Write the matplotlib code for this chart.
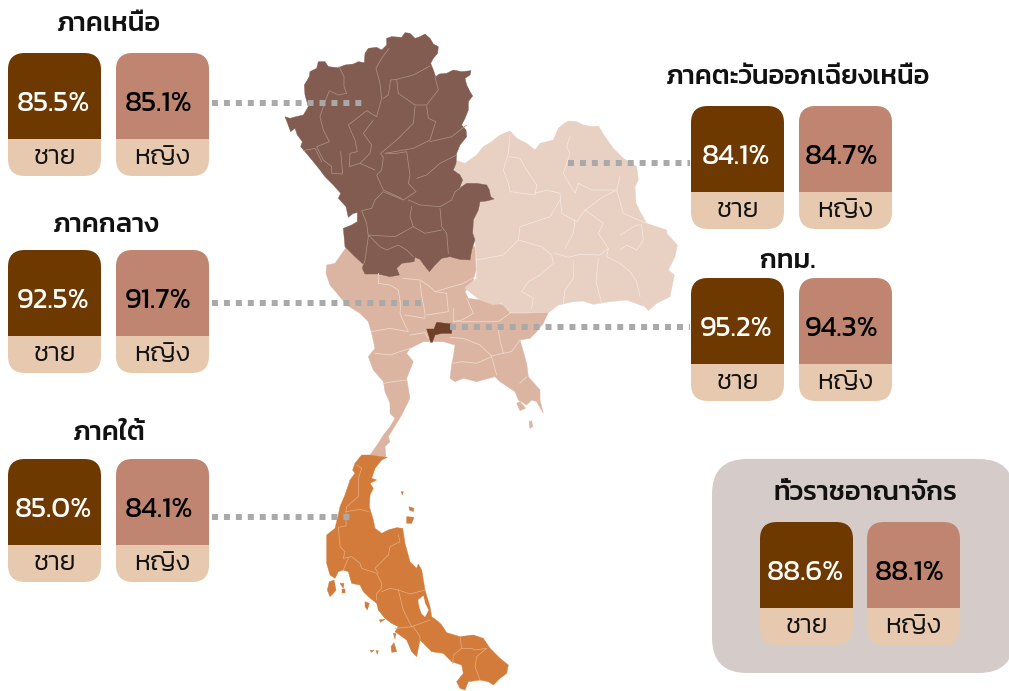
import matplotlib
matplotlib.use('Agg')
import matplotlib.pyplot as plt
from matplotlib.patches import FancyBboxPatch, Polygon, Rectangle

FONT = ['Kanit', 'Prompt', 'Noto Sans Thai', 'DejaVu Sans']
plt.rcParams['font.family'] = FONT

# ---------- data ----------
regions = ['ภาคเหนือ', 'ภาคกลาง', 'ภาคใต้', 'ภาคตะวันออกเฉียงเหนือ', 'กทม.', 'ทั่วราชอาณาจักร']
male = [85.5, 92.5, 85.0, 84.1, 95.2, 88.6]
female = [85.1, 91.7, 84.1, 84.7, 94.3, 88.1]
male_label = 'ชาย'
female_label = 'หญิง'
card_x = [8, 8, 8, 691, 691, 760]
card_x2 = [116, 116, 116, 799, 799, 867]
card_y = [53, 250, 459, 106, 278, 522]
title_xy = [(109, 25), (106, 226), (109, 434), (798, 78), (788, 262), (865, 494)]
leaders = [(212, 362, 103), (212, 425, 303), (212, 350, 517), (568, 690, 163), (450, 690, 327)]

# map outlines (crop coordinates)
Z1 = (270, 20)
Z2 = (310, 250)
Z3 = (310, 440)
north = [(350,55),(365,50),(395,52),(405,38),(420,40),(435,55),(450,50),(465,42),(480,55),(490,72),(505,80),(503,100),(490,115),(482,130),(490,150),(497,170),(508,162),(530,160),(550,150),(575,155),(603,152),(600,165),(585,175),(590,195),(600,215),(608,228),(595,245),(595,270),(585,295),(575,315),(588,330),(590,350),(570,375),(560,400),(558,430),(550,450),(570,465),(578,480),(568,505),(590,490),(620,490),(650,495),(658,510),(662,530),(672,537),(650,543),(630,545),(625,570),(610,600),(608,640),(615,660),(605,690),(600,720),(570,718),(540,710),(515,715),(495,735),(478,755),(462,735),(450,718),(435,712),(432,725),(395,730),(380,745),(388,765),(360,770),(325,762),(285,762),(277,745),(280,733),(255,710),(225,680),(220,625),(245,615),(262,605),(262,578),(250,580),(235,592),(228,560),(205,535),(212,520),(190,495),(165,470),(150,450),(130,425),(105,395),(92,380),(97,365),(82,345),(75,325),(62,335),(45,290),(60,295),(78,290),(100,285),(115,260),(105,225),(103,195),(118,170),(120,155),(140,145),(145,125),(165,125),(175,140),(205,143),(225,135),(250,132),(265,125),(283,128),(285,100),(295,85),(320,82),(335,90),(350,75)]
northeast = [(880,312),(895,303),(920,305),(940,315),(965,320),(985,318),(1005,350),(1030,385),(1060,415),(1100,440),(1105,480),(1095,500),(1098,550),(1110,575),(1130,610),(1190,630),(1190,640),(1222,675),(1215,710),(1195,750),(1213,765),(1200,830),(1160,850),(1135,872),(1125,860),(1070,840),(1020,845),(970,853),(940,843),(910,845),(865,855),(835,878),(720,878),(695,850),(670,855),(630,840),(585,805),(588,800),(620,775),(620,720),(615,660),(608,640),(610,600),(625,570),(630,545),(650,543),(672,537),(662,530),(658,510),(650,495),(620,490),(590,490),(568,505),(578,480),(570,465),(545,440),(540,425),(560,422),(585,430),(620,405),(640,380),(665,365),(690,345),(720,333),(740,355),(770,370),(795,390),(810,370),(850,360),(865,325)]
central = [(110,-10),(75,40),(50,45),(48,70),(60,105),(85,135),(110,165),(150,190),(175,215),(185,250),(195,295),(175,320),(190,360),(220,395),(225,425),(240,460),(240,490),(255,505),(240,530),(220,555),(205,580),(180,615),(228,620),(225,590),(240,575),(235,560),(260,520),(275,495),(300,445),(290,385),(310,335),(290,310),(300,295),(340,275),(400,275),(435,285),(430,320),(425,345),(420,385),(435,395),(460,385),(500,395),(555,380),(570,395),(615,425),(625,450),(650,465),(665,450),(680,455),(700,490),(690,450),(690,420),(655,380),(650,340),(630,270),(660,265),(680,245),(700,220),(715,187),(650,190),(600,190),(580,165),(545,158),(510,150),(475,145),(465,125),(490,90),(498,60),(495,-10)]
central_isl = [[(620,460),(630,455),(647,475),(630,482)], [(657,515),(665,512),(668,530),(660,535)]]
bangkok = [(350,237),(372,237),(380,217),(425,222),(425,250),(395,250),(375,255),(367,277),(362,277),(358,262)]
south = [(155,45),(178,45),(232,52),(215,60),(195,85),(185,115),(200,120),(180,130),(190,145),(180,165),(178,200),(190,240),(195,265),(215,280),(235,270),(260,263),(278,265),(285,310),(300,365),(320,385),(325,372),(335,390),(345,450),(360,500),(365,530),(385,545),(395,555),(410,578),(450,590),(490,585),(520,595),(540,625),(570,655),(595,675),(590,700),(570,715),(550,735),(535,725),(510,720),(475,725),(465,750),(450,745),(440,725),(460,700),(455,675),(425,665),(400,640),(365,635),(340,610),(330,600),(320,650),(305,635),(290,600),(255,575),(265,560),(245,550),(225,535),(205,510),(200,490),(175,470),(160,455),(150,435),(125,430),(115,395),(100,390),(85,395),(75,415),(60,405),(50,370),(50,285),(75,265),(85,225),(90,200),(105,165),(120,120),(135,100),(128,90),(135,70)]
south_isl = [[(58,425),(72,420),(78,450),(70,460),(60,470),(52,450)],[(90,430),(102,430),(100,445)],[(97,447),(105,447),(105,458),(97,458)],[(165,485),(178,490),(172,510),(165,500)],[(208,540),(225,537),(212,547)],[(243,620),(252,608),(260,635),(245,637)],[(180,632),(192,630),(185,637)],[(198,632),(205,632),(202,643)],[(273,155),(280,155),(277,165)],[(297,200),(312,205),(310,215),(298,210)],[(290,230),(312,232),(305,250),(290,250)],[(250,580),(258,580),(255,597)]]
lagoon = [(325,480),(340,468),(345,490),(355,510),(345,530),(335,520),(328,500)]

north_lines = [
 [(207,140),(222,170),(222,200),(230,220),(205,225),(178,212),(165,245),(150,290),(160,330),(178,365),(140,380),(160,420),(185,440),(185,460),(218,462),(212,395)],
 [(100,392),(135,385),(155,425)],
 [(357,85),(335,115),(318,145),(330,190),(335,235),(320,290),(290,272),(235,315),(255,360),(262,395),(240,400),(238,440),(270,430),(300,400),(305,375),(280,340),(310,300)],
 [(480,138),(430,165),(380,178),(362,180),(355,225),(340,235)],
 [(380,178),(385,220),(435,255),(470,255),(505,210),(495,170)],
 [(435,260),(430,310),(380,360),(332,400),(340,412),(335,450),(320,465),(340,510),(395,535)],
 [(470,258),(475,295),(497,305),(480,360),(430,385),(345,400),(380,400),(410,395),(420,465),(415,490),(438,515),(400,540),(340,515),(315,540),(305,565),(275,572),(290,610),(295,650),(285,720),(280,735)],
 [(270,430),(315,450)],
 [(560,405),(510,430),(470,465),(440,475)],
 [(415,540),(450,555),(510,560),(545,540),(555,515),(570,505)],
 [(510,565),(515,620),(530,640),(535,700)],
 [(425,560),(420,590),(430,620),(375,650),(295,645),(330,680),(350,690),(385,675),(410,690),(430,710)],
 [(430,620),(465,640),(515,630)],
 [(590,315),(545,350),(480,365)],
]
ne_lines = [
 [(720,345),(715,400),(700,450),(715,490),(720,515),(795,525),(800,495),(770,450),(750,415),(720,410)],
 [(900,350),(890,380),(900,400),(880,460),(915,520),(925,490),(965,510),(1040,510),(1050,470)],
 [(795,520),(830,510),(870,520),(875,580),(920,605),(945,570),(1000,530),(1040,510),(1060,580),(1130,610)],
 [(870,540),(840,590),(750,620),(745,660)],
 [(620,720),(700,705),(745,660),(815,680),(845,705),(850,730),(810,765),(775,785),(755,815),(790,835),(785,865)],
 [(855,700),(895,712),(930,703),(990,705),(1015,685),(1010,710),(1050,730),(1080,755),(1100,785),(1110,830)],
 [(910,725),(910,775),(885,810),(880,850)],
 [(985,715),(978,785),(995,850)],
 [(885,685),(910,640),(915,600)],
 [(945,570),(1000,610),(985,640),(1015,685)],
 [(1050,645),(1100,615),(1115,615),(1120,660),(1100,690),(1070,675),(1050,690)],
]
central_lines = [
 [(205,70),(205,100),(240,105),(265,120),(272,165),(270,190),(285,225),(295,245),(240,235),(185,245)],
 [(330,95),(335,135),(345,190),(345,205),(285,195)],
 [(280,85),(330,90),(360,110),(375,125),(410,130),(415,185),(350,195)],
 [(430,175),(430,215),(455,210),(490,190),(470,145)],
 [(375,125),(460,100),(495,80)],
 [(430,215),(510,215),(565,215),(600,190)],
 [(300,255),(345,248),(355,265)],
 [(420,262),(460,265),(510,285),(545,318),(580,310),(570,270),(565,240)],
 [(195,310),(240,315),(300,295)],
 [(220,400),(250,395),(290,390)],
 [(545,320),(560,375)],
 [(430,340),(455,335),(500,340),(545,320)],
 [(630,270),(605,305),(580,310)],
 [(630,400),(640,390),(650,380)],
]
south_lines = [
 [(140,75),(155,85),(145,115),(145,170),(110,200),(108,215)],
 [(108,215),(150,208),(175,215)],
 [(108,215),(108,258),(85,262),(90,320),(105,335),(100,355),(125,350),(150,370),(155,385),(200,400),(215,430),(215,445),(200,460),(200,480)],
 [(265,285),(270,305),(240,320),(235,345),(195,385),(205,400)],
 [(215,455),(240,445),(265,450),(300,462),(345,450)],
 [(265,450),(280,510),(305,560)],
 [(305,560),(360,540)],
 [(255,565),(310,560),(330,590),(330,600)],
 [(450,590),(455,625),(430,645),(428,670)],
 [(455,625),(485,625),(495,630),(530,625),(500,650),(495,680),(510,720)],
 [(100,390),(115,355)],
]

# ---------- styles ----------
C_MALE, C_FEMALE, C_LIGHT = '#6e3900', '#bf8570', '#e6c9ae'
C_NORTH, C_NE, C_CENTRAL, C_BKK, C_SOUTH = '#825c50', '#e8d0c3', '#dcb5a2', '#6e4029', '#d27b3a'
C_PANEL, C_DOT = '#d5ccc9', '#a9a9a9'
CARD_W, CARD_H, TOP_H, RADIUS = 93, 123, 85.5, 17

fig = plt.figure(figsize=(10.09, 6.91), dpi=100)
ax = fig.add_axes([0, 0, 1, 1])
ax.set_xlim(0, 1009)
ax.set_ylim(691, 0)
ax.axis('off')


def crop(points, origin):
    return [(origin[0] + x / 3, origin[1] + y / 3) for x, y in points]


def poly(points, origin, color, z):
    ax.add_patch(Polygon(crop(points, origin), closed=True, fc=color, ec=color, lw=0.3, zorder=z))


def lines(segments, origin, color, z):
    for seg in segments:
        pts = crop(seg, origin)
        ax.plot([p[0] for p in pts], [p[1] for p in pts], color=color, lw=0.55,
                solid_joinstyle='round', zorder=z)


def card(x, y, top_color, value, value_color, label, shift):
    style = f'round,pad=0,rounding_size={RADIUS}'
    ax.add_patch(FancyBboxPatch((x, y), CARD_W, CARD_H, boxstyle=style, fc=C_LIGHT, ec='none', zorder=5))
    top = FancyBboxPatch((x, y), CARD_W, CARD_H, boxstyle=style, fc=top_color, ec='none', zorder=6)
    ax.add_patch(top)
    top.set_clip_path(Rectangle((x - 1, y - 1), CARD_W + 2, TOP_H + 1, transform=ax.transData))
    ax.text(x + CARD_W / 2 + shift, y + 51, f'{value:.1f}%', color=value_color, fontsize=21,
            ha='center', va='center', zorder=7)
    ax.text(x + CARD_W / 2, y + 105, label, color='#111111', fontsize=19.2, fontweight=300,
            ha='center', va='center', zorder=7)


# panel
ax.add_patch(FancyBboxPatch((712, 459), 302, 214, boxstyle='round,pad=0,rounding_size=35',
                            fc=C_PANEL, ec='none', zorder=1))

# map
poly(central, Z2, C_CENTRAL, 2)
for isl in central_isl:
    poly(isl, Z2, C_CENTRAL, 2)
poly(northeast, Z1, C_NE, 2.1)
poly(north, Z1, C_NORTH, 2.2)
poly(south, Z3, C_SOUTH, 2.3)
for isl in south_isl:
    poly(isl, Z3, C_SOUTH, 2.3)
poly(lagoon, Z3, 'white', 2.4)
lines(north_lines, Z1, '#ab9085', 2.5)
lines(ne_lines, Z1, '#f4e8e1', 2.5)
lines(central_lines, Z2, '#eedacf', 2.5)
lines(south_lines, Z3, '#e5ab7d', 2.5)
poly(bangkok, Z2, C_BKK, 2.6)

# leaders
for x0, x1, y in leaders:
    ax.plot([x0, x1], [y, y], color=C_DOT, lw=4.3, dashes=(1, 1),
            dash_capstyle='butt', zorder=3)

# cards and titles
for name, m, f, x1, x2, y, (tx, ty) in zip(regions, male, female, card_x, card_x2, card_y, title_xy):
    ax.text(tx, ty, name, fontsize=19.5, fontweight=500, color='#111111', ha='center', va='center', zorder=7)
    card(x1, y, C_MALE, m, 'white', male_label, -1.5)
    card(x2, y, C_FEMALE, f, 'black', female_label, -4)

fig.savefig('out.png', dpi=100)
